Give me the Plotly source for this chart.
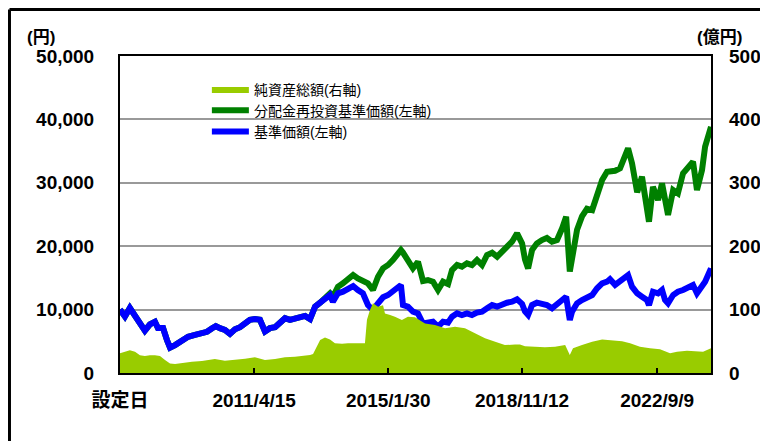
import plotly.graph_objects as go

# ---------------- data ----------------
line_dates = [
    "2007-06-29", "2007-08-19", "2007-10-09", "2007-12-01",
    "2008-01-21", "2008-03-12", "2008-05-03", "2008-06-24", "2008-07-25", "2008-09-16", "2008-10-26", "2008-11-27",
    "2009-01-18", "2009-03-29", "2009-06-01", "2009-08-12", "2009-10-23", "2009-12-14",
    "2010-02-05", "2010-03-15", "2010-04-26", "2010-06-17", "2010-08-08", "2010-09-29", "2010-11-20",
    "2011-01-11", "2011-03-02", "2011-04-23", "2011-06-14", "2011-08-05", "2011-09-25", "2011-11-17",
    "2012-01-08", "2012-02-28", "2012-04-19", "2012-06-10", "2012-08-01", "2012-09-22", "2012-11-13",
    "2013-01-04", "2013-02-25", "2013-04-16", "2013-06-07", "2013-07-07", "2013-08-28", "2013-10-19", "2013-12-10",
    "2014-02-01", "2014-03-22", "2014-05-13", "2014-07-04", "2014-08-25", "2014-10-16", "2014-12-07",
    "2015-01-28", "2015-03-19", "2015-05-10", "2015-06-10", "2015-07-01", "2015-08-21", "2015-10-12", "2015-12-03",
    "2016-01-24", "2016-03-15", "2016-05-06", "2016-06-27", "2016-08-18", "2016-10-09", "2016-11-19",
    "2017-01-10", "2017-03-01", "2017-04-22", "2017-06-13", "2017-08-04", "2017-09-25", "2017-11-16",
    "2018-01-07", "2018-02-28", "2018-04-19", "2018-06-10", "2018-08-01", "2018-09-22", "2018-11-13", "2018-12-13",
    "2019-01-14", "2019-02-24", "2019-04-15", "2019-06-06", "2019-07-27", "2019-09-18", "2019-11-09",
    "2020-01-01", "2020-02-11", "2020-03-20", "2020-04-12", "2020-06-03", "2020-07-24", "2020-09-14", "2020-11-06", "2020-12-27",
    "2021-02-17", "2021-04-09", "2021-05-09", "2021-07-01", "2021-08-21", "2021-10-12", "2021-11-12", "2021-12-23",
    "2022-02-14", "2022-04-05", "2022-05-26", "2022-06-16", "2022-07-27", "2022-09-18", "2022-10-29", "2022-11-29", "2022-12-30",
    "2023-02-21", "2023-04-11", "2023-06-03", "2023-07-23", "2023-09-14", "2023-10-25", "2023-12-16",
    "2024-01-17", "2024-02-17", "2024-03-18",
]

nav = [  # 基準価額 (円)
    10000, 8900, 10250, 9000,
    7570, 6670, 7680, 8090, 7100, 7100, 5200, 4000,
    4400, 5200, 5720, 6000, 6260, 6500,
    7050, 7400, 7070, 6800, 6170, 6900, 7230,
    7860, 8390, 8500, 8390, 6540, 7070, 7230,
    7860, 8650, 8390, 8650, 8900, 9000, 8500,
    10470, 11100, 11800, 12300, 11240, 12570, 12820, 13350,
    13720, 13090, 12570, 10720, 9930, 11000, 11940,
    12300, 12820, 13510, 13880, 10720, 10460, 9670, 9410,
    7800, 7940, 8100, 7310, 8100, 7940, 8880,
    9410, 9150, 9410, 9150, 9520, 9670, 10200,
    10720, 10460, 10880, 11090, 11240, 11620, 10900, 9700,
    9150, 10720, 11090, 10880, 10720, 10200, 11000,
    11510, 12040, 8360, 9670, 11000, 11510, 12040, 12300, 13360,
    14150, 14400, 14800, 13900, 14400, 15050, 15450, 13610,
    12570, 12040, 11510, 10720, 12820, 12570, 13090, 11510, 11000,
    12300, 12820, 13090, 13610, 13880, 12570, 13610,
    14400, 15450, 16510,
]

nav_reinvested = [  # 分配金再投資基準価額 (円)
    10000, 8900, 10250, 9000,
    7570, 6670, 7680, 8090, 7100, 7100, 5200, 4000,
    4400, 5200, 5720, 6000, 6260, 6500,
    7050, 7400, 7070, 6800, 6170, 6900, 7230,
    7860, 8390, 8500, 8390, 6540, 7070, 7230,
    7860, 8650, 8390, 8650, 8900, 9000, 8500,
    10470, 11100, 11800, 12570, 12000, 13610, 14140, 14930,
    15450, 14930, 14400, 14140, 13090, 15190, 16510,
    17030, 17820, 18610, 19400, 19000, 17820, 16510, 17550,
    14500, 14670, 14400, 13090, 14400, 14040, 16240,
    17030, 16770, 17300, 17030, 17820, 17030, 18610,
    18970, 18340, 19130, 20190, 20710, 22030, 20450, 17900,
    16500, 19400, 20450, 20970, 21300, 20710, 20970,
    22820, 24650, 16000, 18500, 22600, 24700, 25900, 25700, 28070,
    30440, 31750, 31750, 31900, 32280, 34650, 35440, 33070,
    28500, 30960, 25500, 23860, 29380, 27280, 29910, 27280, 24920,
    28860, 28330, 31490, 32540, 33330, 28860, 32010,
    35700, 37270, 38840,
]

aum_dates = [
    "2007-06-29", "2007-08-19", "2007-10-09", "2007-12-01", "2008-01-21", "2008-03-12", "2008-05-03",
    "2008-06-24", "2008-08-15", "2008-10-06", "2008-11-27", "2009-01-18", "2009-03-29", "2009-07-11",
    "2009-10-23", "2010-02-05", "2010-03-05", "2010-06-17", "2010-09-29", "2011-01-11", "2011-04-23",
    "2011-08-05", "2011-11-17", "2012-02-28", "2012-06-10", "2012-09-22", "2012-11-13", "2012-12-14",
    "2013-01-14", "2013-02-25", "2013-04-16", "2013-06-07", "2013-07-28", "2013-10-09", "2013-12-10",
    "2014-02-22", "2014-05-03", "2014-06-03", "2014-06-24", "2014-07-24", "2014-08-25", "2014-10-16",
    "2014-12-07", "2014-12-27", "2015-02-18", "2015-04-09", "2015-06-20", "2015-08-21", "2015-11-02",
    "2015-12-23", "2016-02-14", "2016-05-26", "2016-09-08", "2016-12-20", "2017-04-02", "2017-07-14",
    "2017-10-26", "2018-02-08", "2018-05-19", "2018-09-01", "2018-10-22", "2018-12-13", "2019-03-25",
    "2019-07-07", "2019-10-19", "2020-02-01", "2020-03-20", "2020-04-22", "2020-07-24", "2020-11-06",
    "2021-02-17", "2021-05-30", "2021-09-11", "2021-12-03", "2022-03-15", "2022-06-27", "2022-10-08",
    "2023-01-20", "2023-04-02", "2023-07-14", "2023-10-25", "2023-12-27", "2024-03-18",
]

aum = [  # 純資産総額 (億円)
    31, 33.6, 36, 33.6, 28, 26.8, 28,
    28, 27, 20.5, 15, 14, 16, 17.8,
    19, 20.5, 22, 19.4, 21.6, 22.6, 24.7,
    20.5, 22, 24.7, 25.7, 26.8, 28.4, 30,
    40, 52, 56, 53, 47, 46, 47,
    47, 46, 47, 84, 99, 110, 104.5,
    107, 94, 91.5, 88.8, 83.6, 88.8, 88,
    83.6, 78, 75.7, 70.5, 73, 70.5, 62.6,
    54.7, 49.4, 44, 45, 45, 42, 41.5,
    40.5, 41.5, 44, 28.4, 39, 44, 49.4,
    53, 52, 50, 47, 41.5, 39, 37.4,
    31, 33.6, 35, 33.6, 33.6, 39,
]

tick_dates = ["2007-06-29", "2011-04-15", "2015-01-30", "2018-11-12", "2022-09-09"]
tick_text = ["設定日", "2011/4/15", "2015/1/30", "2018/11/12", "2022/9/9"]

# ---------------- figure ----------------
FONT = "Liberation Sans, Arial, Noto Sans CJK JP, sans-serif"

fig = go.Figure()
fig.add_trace(go.Scatter(
    x=aum_dates, y=aum, name="純資産総額(右軸)", yaxis="y2",
    mode="lines", line=dict(width=0, color="#99CC00"),
    fill="tozeroy", fillcolor="#99CC00",
))
fig.add_trace(go.Scatter(
    x=line_dates, y=nav_reinvested, name="分配金再投資基準価額(左軸)",
    mode="lines", line=dict(width=6, color="#008000"),
))
fig.add_trace(go.Scatter(
    x=line_dates, y=nav, name="基準価額(左軸)",
    mode="lines", line=dict(width=6, color="#0000FF"),
))

bold_tick = dict(family=FONT, size=19, color="black", weight="bold")

fig.update_layout(
    width=760, height=433,
    margin=dict(l=112, r=57, t=48, b=68, autoexpand=False),
    paper_bgcolor="white", plot_bgcolor="white",
    showlegend=True,
    legend=dict(
        x=0.147, xanchor="left", y=0.945, yanchor="top",
        bgcolor="rgba(0,0,0,0)", borderwidth=0,
        font=dict(family=FONT, size=14, color="black"),
        traceorder="normal", tracegroupgap=0, itemwidth=37,
    ),
    xaxis=dict(
        type="date", range=["2007-06-29", "2024-03-18"],
        tickvals=tick_dates, ticktext=tick_text,
        ticks="inside", ticklen=5, tickwidth=1.5, tickcolor="black",
        showgrid=False, showline=True, linecolor="black", linewidth=2, mirror=True,
        tickfont=bold_tick, ticklabelstandoff=9, automargin=False,
    ),
    yaxis=dict(
        range=[0, 50000], dtick=10000, tickformat=",",
        showgrid=True, gridcolor="#999999", gridwidth=1.5,
        zeroline=False,
        showline=True, linecolor="black", linewidth=2, mirror=True,
        ticks="", tickfont=bold_tick, ticklabelstandoff=20, automargin=False,
    ),
    yaxis2=dict(
        range=[0, 500], dtick=100, overlaying="y", side="right",
        showgrid=False, zeroline=False, showline=False,
        ticks="", tickfont=bold_tick, ticklabelstandoff=17, automargin=False,
    ),
    shapes=[
        # white legend backdrop hiding the grid line behind the legend
        dict(type="rect", xref="paper", yref="paper", x0=0.047, x1=0.618, y0=0.72, y1=0.97,
             fillcolor="white", line=dict(width=0), layer="between"),
        # outer frame (top and left edges)
        dict(type="line", xref="paper", yref="paper", x0=-0.187, x1=1.2, y0=1.1467, y1=1.1467,
             line=dict(color="black", width=3)),
        dict(type="line", xref="paper", yref="paper", x0=-0.187, x1=-0.187, y0=-0.3, y1=1.1467,
             line=dict(color="black", width=3)),
    ],
    annotations=[
        dict(text="(円)", xref="paper", yref="paper", x=-0.133, y=1.058, showarrow=False,
             xanchor="center", yanchor="middle",
             font=dict(family=FONT, size=17, color="black", weight="bold")),
        dict(text="(億円)", xref="paper", yref="paper", x=1.015, y=1.058, showarrow=False,
             xanchor="center", yanchor="middle",
             font=dict(family=FONT, size=17, color="black", weight="bold")),
    ],
)

fig.write_html("out.html")
